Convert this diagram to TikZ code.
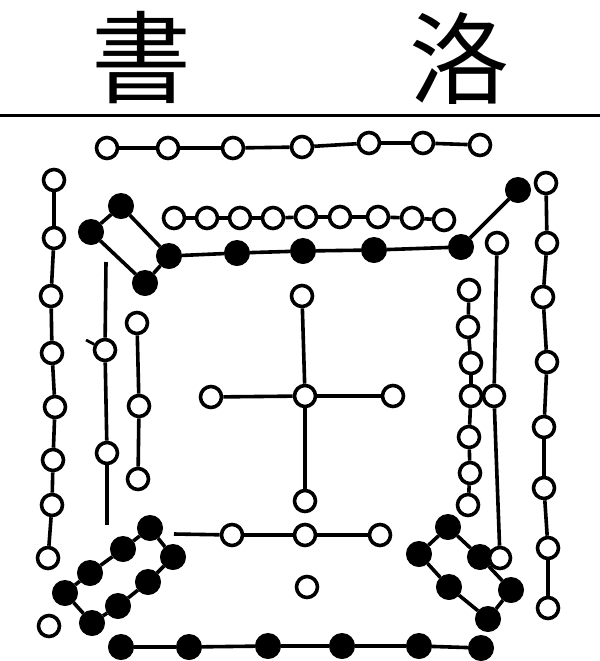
\documentclass[tikz,border=0pt]{standalone}
\usepackage{fontspec}
\newfontfamily\cjk{Noto Sans CJK TC}

\begin{document}
\begin{tikzpicture}[x=0.5pt,y=-0.5pt]

	\tikzstyle yang=[circle, draw, line width=1.8pt, fill=white, inner sep=0pt, minimum size=10.5pt];
	\tikzstyle yin=[circle, draw, line width=0.5pt, fill=black, inner sep=0pt, minimum size=12.5pt];
	\tikzstyle cord=[line width=1.8pt];
	\tikzstyle title=[font=\cjk\fontsize{50}{50}\selectfont, inner sep=0pt];

	\useasboundingbox (0,0) rectangle (600,661);

	% title and rule
	\node[title] (shu) at (141,58) {書};
	\node[title] (luo) at (460,58) {洛};
	\coordinate (ruleL) at (0,115);
	\coordinate (ruleR) at (600,115);
	\draw[line width=1.5pt] (ruleL) -- (ruleR);

	% top row, seven
		\foreach \n/\x/\y in {1/107/148,2/168/148,3/233/148,4/302/147,5/369/143,6/423/143,7/480/145}
			\node[yang] (t\n) at (\x,\y) {};
		\foreach \a/\b in {1/2,2/3,3/4,4/5,5/6,6/7}
			\draw[cord] (t\a) -- (t\b);

	% nine
		\foreach \n/\x/\y in {1/174/218,2/207/218,3/240/218,4/273/218,5/306/217,6/340/217,7/378/217,8/412/218,9/444/220}
			\node[yang] (w\n) at (\x,\y) {};
		\foreach \a/\b in {1/2,2/3,3/4,4/5,5/6,6/7,7/8,8/9}
			\draw[cord] (w\a) -- (w\b);

	% black row and top-left loop
		\foreach \n/\x/\y in {1/169/256,2/237/253,3/303/251,4/374/250,5/461/247,6/518/190}
			\node[yin] (b\n) at (\x,\y) {};
		\foreach \a/\b in {1/2,2/3,3/4,4/5,5/6}
			\draw[cord] (b\a) -- (b\b);
		\foreach \n/\x/\y in {1/121/206,2/91/232,3/145/283}
			\node[yin] (q\n) at (\x,\y) {};
		\draw[cord] (b1) -- (q1);
		\draw[cord] (q1) -- (q2);
		\draw[cord] (q2) -- (q3);
		\draw[cord] (q3) -- (b1);

	% left outer column
		\foreach \n/\x/\y in {1/54/180,2/54/238,3/51/296,4/52/353,5/55/407,6/53/460,7/52/505,8/48/558}
			\node[yang] (l\n) at (\x,\y) {};
		\foreach \a/\b in {1/2,2/3,3/4,4/5,5/6,6/7,7/8}
			\draw[cord] (l\a) -- (l\b);
		\node[yang] (lone) at (49,626) {};

	% left inner line
		\coordinate (kT) at (106,262);
		\coordinate (kB) at (107,525);
		\coordinate (kTick) at (86,340);
		\node[yang] (k1) at (105,350) {};
		\node[yang] (k2) at (107,453) {};
		\draw[cord] (kT) -- (k1);
		\draw[cord] (k1) -- (k2);
		\draw[cord] (k2) -- (kB);
		\draw[line width=1.4pt] (kTick) -- (k1);

		\foreach \n/\x/\y in {1/137/323,2/139/406,3/138/479}
			\node[yang] (m\n) at (\x,\y) {};
		\draw[cord] (m1) -- (m2);
		\draw[cord] (m2) -- (m3);

	% centre cross
		\node[yang] (c0) at (305,396) {};
		\node[yang] (cN) at (302,296) {};
		\node[yang] (cS) at (305,501) {};
		\node[yang] (cW) at (211,397) {};
		\node[yang] (cE) at (393,396) {};
		\foreach \p in {cN,cS,cW,cE}
			\draw[cord] (c0) -- (\p);

	% lower centre
		\coordinate (eL) at (174,534);
		\foreach \n/\x in {1/232,2/305,3/380}
			\node[yang] (e\n) at (\x,535) {};
		\draw[cord] (eL) -- (e1);
		\draw[cord] (e1) -- (e2);
		\draw[cord] (e2) -- (e3);
		\node[yang] (eone) at (307,587) {};

	% right outer column
		\foreach \n/\x/\y in {1/546/183,2/547/243,3/543/297,4/547/362,5/544/427,6/544/488,7/548/548,8/548/608}
			\node[yang] (o\n) at (\x,\y) {};
		\foreach \a/\b in {1/2,2/3,3/4,4/5,5/6,6/7,7/8}
			\draw[cord] (o\a) -- (o\b);

	% right inner column
		\foreach \n/\x/\y in {1/469/290,2/468/327,3/471/363,4/471/396,5/469/437,6/470/473,7/468/505}
			\node[yang] (r\n) at (\x,\y) {};
		\foreach \a/\b in {1/2,2/3,3/4,4/5,5/6,6/7}
			\draw[cord] (r\a) -- (r\b);

	% bottom-right loop
		\foreach \n/\x/\y in {1/448/527,2/419/554,3/449/587,4/488/619,5/511/590,6/480/557}
			\node[yin] (h\n) at (\x,\y) {};
		\foreach \a/\b in {1/2,2/3,3/4,4/5,5/6,6/1}
			\draw[cord] (h\a) -- (h\b);

		\foreach \n/\x/\y in {1/497/243,2/494/396,3/500/558}
			\node[yang] (s\n) at (\x,\y) {};
		\draw[cord] (s1) -- (s2);
		\draw[cord] (s2) -- (s3);

	% bottom-left loop
		\foreach \n/\x/\y in {1/150/528,2/123/549,3/90/573,4/65/593,5/92/623,6/118/606,7/148/582,8/173/557}
			\node[yin] (g\n) at (\x,\y) {};
		\foreach \a/\b in {1/2,2/3,3/4,4/5,5/6,6/7,7/8,8/1}
			\draw[cord] (g\a) -- (g\b);

	% bottom row
		\foreach \n/\x/\y in {1/121/647,2/189/647,3/268/646,4/342/646,5/419/646,6/481/648}
			\node[yin] (d\n) at (\x,\y) {};
		\foreach \a/\b in {1/2,2/3,3/4,4/5,5/6}
			\draw[cord] (d\a) -- (d\b);

\end{tikzpicture}
\end{document}
